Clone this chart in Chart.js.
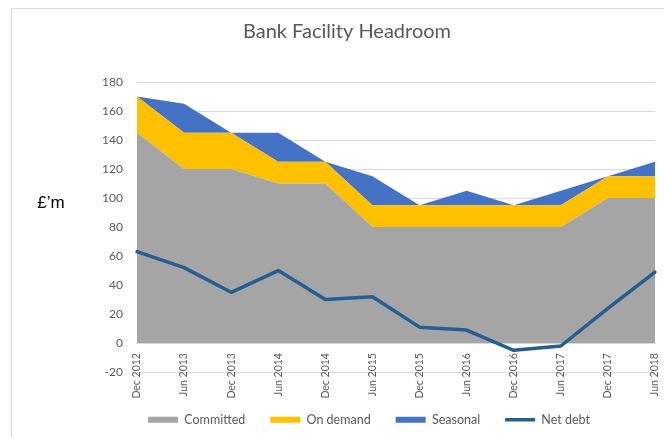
<!DOCTYPE html>
<html>
<head>
<meta charset="utf-8">
<script src="https://cdn.jsdelivr.net/npm/chart.js@4/dist/chart.umd.min.js"></script>
<style>
  html, body { margin: 0; padding: 0; background: #fff; }
  #wrap { position: relative; width: 664px; height: 437px; }
</style>
</head>
<body>
<div id="wrap"><canvas id="c" width="664" height="437"></canvas></div>
<script>
// Half-yearly reporting dates
const periods = ['Dec 2012', 'Jun 2013', 'Dec 2013', 'Jun 2014', 'Dec 2014', 'Jun 2015',
                 'Dec 2015', 'Jun 2016', 'Dec 2016', 'Jun 2017', 'Dec 2017', 'Jun 2018'];

// Facility layers (£m), stacked on top of each other
const committed = [145, 120, 120, 110, 110, 80, 80, 80, 80, 80, 100, 100];
const onDemand  = [25, 25, 25, 15, 15, 15, 15, 15, 15, 15, 15, 15];
const seasonal  = [0, 20, 0, 20, 0, 20, 0, 10, 0, 10, 0, 10];

// Net debt (£m)
const netDebt   = [63, 52, 35, 50, 30, 32, 11, 9, -5, -2, 24, 49];

// Value axis
const yMin = -20, yMax = 180, yStep = 20;

const chartTitle = 'Bank Facility Headroom';
const unitLabel = '£\u2019m';

const FONT = 'Lato, "Open Sans", sans-serif';
const TEXT = '#595959';

// Outer frame, heading and the horizontal unit label
const extras = {
  id: 'extras',
  beforeDraw(chart) {
    const ctx = chart.ctx;
    ctx.save();
    ctx.fillStyle = '#fff';
    ctx.fillRect(0, 0, chart.width, chart.height);
    ctx.strokeStyle = '#d9d9d9';
    ctx.lineWidth = 1;
    ctx.beginPath();
    ctx.moveTo(11.5, chart.height);
    ctx.lineTo(11.5, 8.5);
    ctx.lineTo(chart.width, 8.5);
    ctx.stroke();
    ctx.restore();
  },
  afterDraw(chart) {
    const ctx = chart.ctx;
    ctx.save();
    ctx.fillStyle = TEXT;
    ctx.font = '20px ' + FONT;
    ctx.textAlign = 'center';
    ctx.textBaseline = 'middle';
    ctx.fillText(chartTitle, 347, 32);
    ctx.fillStyle = '#000';
    ctx.font = '17px "Liberation Sans", Arial, sans-serif';
    ctx.textBaseline = 'alphabetic';
    ctx.fillText(unitLabel, 51, 208);
    ctx.restore();
  }
};

new Chart(document.getElementById('c'), {
  type: 'line',
  data: {
    labels: periods,
    datasets: [
      { label: 'Committed', data: committed, stack: 'facility', fill: 'origin',
        backgroundColor: '#a5a5a5', borderColor: '#a5a5a5', borderWidth: 0,
        pointRadius: 0, pointStyle: 'rect', tension: 0 },
      { label: 'On demand', data: onDemand, stack: 'facility', fill: '-1',
        backgroundColor: '#ffc000', borderColor: '#ffc000', borderWidth: 0,
        pointRadius: 0, pointStyle: 'rect', tension: 0 },
      { label: 'Seasonal', data: seasonal, stack: 'facility', fill: '-1',
        backgroundColor: '#4472c4', borderColor: '#4472c4', borderWidth: 0,
        pointRadius: 0, pointStyle: 'rect', tension: 0 },
      { label: 'Net debt', data: netDebt, stack: 'debt', fill: false, order: -1,
        borderColor: '#255e91', backgroundColor: '#255e91', borderWidth: 3.5,
        borderJoinStyle: 'round', borderCapStyle: 'round',
        pointRadius: 0, pointStyle: 'line', tension: 0 }
    ]
  },
  options: {
    responsive: false,
    animation: false,
    events: [],
    layout: { padding: { left: 83, right: 9, top: 82, bottom: 1 } },
    scales: {
      x: {
        position: { y: 0 },
        offset: false,
        grid: { display: false, drawTicks: false },
        border: { display: false },
        ticks: {
          color: TEXT, font: { family: FONT, size: 10.5 },
          minRotation: 90, maxRotation: 90, padding: 10, autoSkip: false
        },
        afterFit(scale) {
          scale.paddingLeft = 0; scale.paddingRight = 0;
          scale.paddingTop = 0; scale.paddingBottom = 0;
        }
      },
      y: {
        stacked: true,
        min: yMin, max: yMax,
        grid: { color: '#d9d9d9', drawTicks: false },
        border: { display: false },
        ticks: { stepSize: yStep, color: TEXT, font: { family: FONT, size: 12 }, padding: 14 },
        afterFit(scale) { scale.width = 54; }
      }
    },
    plugins: {
      title: { display: false },
      legend: {
        position: 'bottom',
        title: { display: true, text: '', font: { size: 12 }, padding: { top: 2, bottom: 0 } },
        labels: {
          usePointStyle: true,
          pointStyleWidth: 30,
          boxHeight: 6,
          padding: 25,
          color: TEXT,
          font: { family: FONT, size: 12.5 },
          sort: (a, b) => a.datasetIndex - b.datasetIndex
        }
      },
      tooltip: { enabled: false }
    }
  },
  plugins: [extras]
});
</script>
</body>
</html>
